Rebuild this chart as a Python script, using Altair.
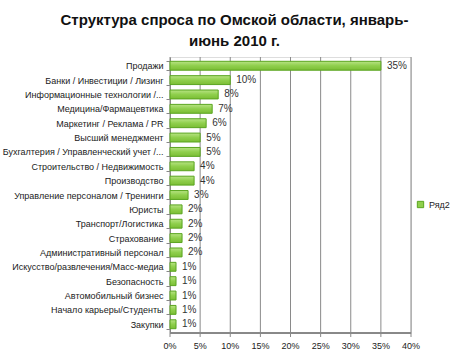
import altair as alt
import pandas as pd

categories = [
    "Продажи",
    "Банки / Инвестиции / Лизинг",
    "Информационные технологии /...",
    "Медицина/Фармацевтика",
    "Маркетинг / Реклама / PR",
    "Высший менеджмент",
    "Бухгалтерия / Управленческий учет /...",
    "Строительство / Недвижимость",
    "Производство",
    "Управление персоналом / Тренинги",
    "Юристы",
    "Транспорт/Логистика",
    "Страхование",
    "Административный персонал",
    "Искусство/развлечения/Масс-медиа",
    "Безопасность",
    "Автомобильный бизнес",
    "Начало карьеры/Студенты",
    "Закупки",
]
values = [35, 10, 8, 7, 6, 5, 5, 4, 4, 3, 2, 2, 2, 2, 1, 1, 1, 1, 1]
series = ["Ряд2"] * len(categories)
tick_values = [0, 0.05, 0.10, 0.15, 0.20, 0.25, 0.30, 0.35, 0.40]
tick_labels = ["0%", "5%", "10%", "15%", "20%", "25%", "30%", "35%", "40%"]

df = pd.DataFrame({"cat": categories, "val": [v / 100 for v in values], "s": series})
df["lab"] = [f"{v}%" for v in values]
grid_df = pd.DataFrame({"val": tick_values, "lab": tick_labels})

FONT = "Liberation Sans"
W, H = 241, 276

xscale = alt.Scale(domain=[0, 0.4], nice=False)
x = alt.X("val:Q", title=None, scale=xscale, axis=None)
y = alt.Y("cat:N", sort=categories, title=None,
          scale=alt.Scale(paddingInner=0.38, paddingOuter=0.3),
          axis=alt.Axis(labelFont=FONT, labelFontSize=9, labelColor="#222",
                        domainColor="#888", tickColor="#888", tickSize=4,
                        tickBand="extent", labelPadding=3, labelLimit=200))

grid = alt.Chart(grid_df).mark_rule(color="#8a8a8a", strokeWidth=1).encode(x=x)

xticks = alt.Chart(grid_df).mark_rule(color="#888", strokeWidth=1).encode(
    x=x, y=alt.value(H), y2=alt.value(H + 4)
)
xdomain = alt.Chart(grid_df).mark_rule(color="#888", strokeWidth=1).encode(
    x=alt.value(0), x2=alt.value(W), y=alt.value(H)
)
xlabels = alt.Chart(grid_df).mark_text(
    font=FONT, fontSize=9, color="#222", baseline="middle", align="center"
).encode(x=x, y=alt.value(H + 13), text="lab:N")

grad = alt.Gradient(gradient="linear", x1=0, y1=0, x2=0, y2=1,
                    stops=[alt.GradientStop(color="#b8e384", offset=0),
                           alt.GradientStop(color="#8fcf4c", offset=0.5),
                           alt.GradientStop(color="#7bbd35", offset=1)])

bars = alt.Chart(df).mark_bar(fill=grad, stroke="#5aa51f", strokeWidth=1).encode(
    x=x, y=y,
    color=alt.Color("s:N", title=None,
                    scale=alt.Scale(range=["#8fcf4c"]),
                    legend=alt.Legend(orient="none", legendX=246, legendY=143,
                                      symbolType="square", symbolSize=40,
                                      symbolStrokeColor="#5aa51f", symbolStrokeWidth=1,
                                      labelFont=FONT, labelFontSize=9, labelColor="#222")),
)

labels = alt.Chart(df).mark_text(align="left", dx=6, font=FONT, fontSize=10, color="#333").encode(
    x=x, y=y, text="lab:N"
)

chart = alt.layer(grid, xdomain, xticks, xlabels, bars, labels).properties(
    width=W, height=H,
    padding={"left": 170, "top": 57, "right": 57, "bottom": 24},
    autosize=alt.AutoSizeParams(type="none"),
    title=alt.TitleParams(
        ["Структура спроса по Омской области, январь-", "июнь 2010 г."],
        font=FONT, fontSize=15, fontWeight="bold", color="#111",
        anchor="middle", dx=-56, offset=4, lineHeight=21,
    ),
).configure_view(stroke=None).configure(background="white")

chart.save("out.html", embed_options={"renderer": "svg", "actions": False})
